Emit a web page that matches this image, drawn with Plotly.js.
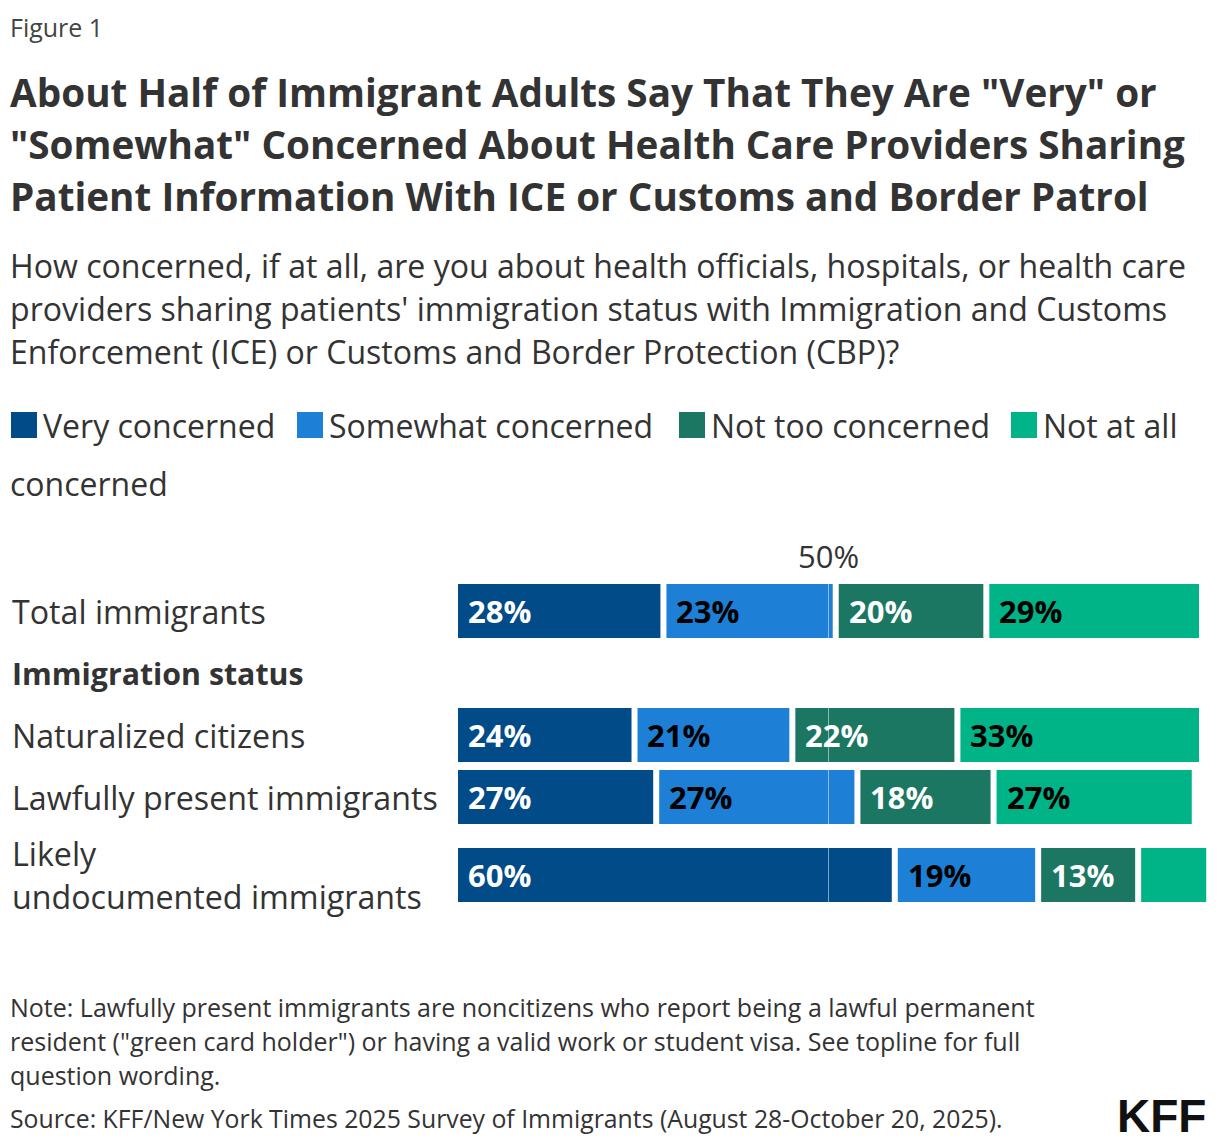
<!DOCTYPE html>
<html>
<head>
<meta charset="utf-8">
<script src="https://cdn.plot.ly/plotly-3.0.1.min.js"></script>
<style>
  html, body { margin: 0; padding: 0; background: #ffffff; }
  #chart { width: 1220px; height: 1146px; }
</style>
</head>
<body>
<div id="chart"></div>
<script>
// Survey groups (rows) and the four answer categories
const categories = ['Total immigrants', 'Naturalized citizens', 'Lawfully present immigrants', 'Likely undocumented immigrants'];
const categoryLines = [['Total immigrants'], ['Naturalized citizens'], ['Lawfully present immigrants'], ['Likely', 'undocumented immigrants']];
const groupHeader = 'Immigration status';
const seriesNames = ['Very concerned', 'Somewhat concerned', 'Not too concerned', 'Not at all concerned'];

// Shares of adults (%) per answer
const veryConcerned = [28, 24, 27, 60];
const somewhatConcerned = [23, 21, 27, 19];
const notTooConcerned = [20, 22, 18, 13];
const notAtAllConcerned = [29, 33, 27, 9];
const seriesValues = [veryConcerned, somewhatConcerned, notTooConcerned, notAtAllConcerned];

// Styling
const colors = ['#004b88', '#1d80d6', '#1b7662', '#00b488'];
const labelColors = ['#ffffff', '#000000', '#ffffff', '#000000'];
const FONT = '"Open Sans", "Noto Sans", sans-serif';
const TEXT = '#333333';

// Layout geometry (pixels)
const W = 1220, H = 1146;
const M = { l: 458, r: 10, t: 549, b: 225 };
const plotW = W - M.l - M.r, plotH = H - M.t - M.b;
const GAP = 0.83;                 // white gap between segments, in % units
const XMAX = plotW / 7.23;        // axis span in % units
const ROW_PX = 62;                // pixels per y unit
const rowPos = [0, 2, 3, 4.26];   // vertical slot of each group
const headerPos = 1;
const YTOP = -1, YBOT = YTOP + plotH / ROW_PX;
const PAD = 3;                    // annotation inner padding

const px = x => (x - PAD - M.l) / plotW;
const py = y => (H - M.b - y) / plotH;

// Stacked segments separated by a small gap
const traces = [];
const annotations = [];
const cum = categories.map(() => 0);
seriesValues.forEach((vals, s) => {
  const base = vals.map((v, i) => cum[i] + s * GAP);
  traces.push({
    type: 'bar', orientation: 'h', name: seriesNames[s],
    x: vals, base: base, y: rowPos, width: 54 / ROW_PX,
    marker: { color: colors[s], line: { width: 0 } },
    hovertemplate: '%{x}%<extra>' + seriesNames[s] + '</extra>',
    showlegend: false
  });
  vals.forEach((v, i) => {
    if (v >= 10) {
      annotations.push({
        xref: 'x', yref: 'y', x: base[i] + 1.1, y: rowPos[i],
        xanchor: 'left', yanchor: 'middle', showarrow: false,
        text: '<b>' + v + '%</b>', font: { family: FONT, size: 31, color: labelColors[s] }
      });
    }
    cum[i] += v;
  });
});

// Row labels on the left
categoryLines.forEach((lines, i) => {
  lines.forEach((ln, k) => {
    const off = (k - (lines.length - 1) / 2) * 43 / ROW_PX;
    annotations.push({
      xref: 'paper', yref: 'y', x: px(13), y: rowPos[i] + off,
      xanchor: 'left', yanchor: 'middle', showarrow: false,
      text: ln, font: { family: FONT, size: 32.2, color: TEXT }
    });
  });
});
annotations.push({
  xref: 'paper', yref: 'y', x: px(13), y: headerPos,
  xanchor: 'left', yanchor: 'middle', showarrow: false,
  text: '<b>' + groupHeader + '</b>', font: { family: FONT, size: 30.3, color: TEXT }
});

// 50% reference label
const mid = (100 + 3 * GAP) / 2;
annotations.push({
  xref: 'x', yref: 'paper', x: mid, y: py(556),
  xanchor: 'center', yanchor: 'middle', showarrow: false,
  text: '50%', font: { family: FONT, size: 31, color: TEXT }
});

// Heading block
function textLine(str, x, y, size, opts) {
  annotations.push(Object.assign({
    xref: 'paper', yref: 'paper', x: px(x), y: py(y),
    xanchor: 'left', yanchor: 'middle', showarrow: false,
    text: str, font: { family: FONT, size: size, color: TEXT }
  }, opts || {}));
}
textLine('Figure 1', 11, 27, 25, { font: { family: FONT, size: 25, color: '#444444' } });
const titleLines = [
  'About Half of Immigrant Adults Say That They Are "Very" or',
  '"Somewhat" Concerned About Health Care Providers Sharing',
  'Patient Information With ICE or Customs and Border Patrol'
];
titleLines.forEach((t, k) => textLine('<b>' + t + '</b>', 11, 92 + 52 * k, 38.7));
const subtitleLines = [
  'How concerned, if at all, are you about health officials, hospitals, or health care',
  "providers sharing patients' immigration status with Immigration and Customs",
  'Enforcement (ICE) or Customs and Border Protection (CBP)?'
];
subtitleLines.forEach((t, k) => textLine(t, 11, 265 + 43 * k, 32.1));

// Legend: swatch + name, the last name wraps onto a second line
const legendX = [11, 297, 679, 1011];
const shapes = [];
seriesNames.forEach((n, s) => {
  shapes.push({
    type: 'rect', xref: 'paper', yref: 'paper',
    x0: px(legendX[s] + PAD), x1: px(legendX[s] + PAD + 26), y0: py(438), y1: py(412),
    fillcolor: colors[s], line: { width: 0 }
  });
  const words = n.split(' ');
  if (s === seriesNames.length - 1) {
    textLine(words.slice(0, 3).join(' '), legendX[s] + 33, 425, 32);
    textLine(words.slice(3).join(' '), 11, 483, 32);
  } else {
    textLine(n, legendX[s] + 33, 425, 32);
  }
});

// 50% guide line across the bars
shapes.push({
  type: 'line', xref: 'x', yref: 'y', x0: mid, x1: mid, y0: -0.5, y1: 4.7,
  line: { color: 'rgba(255,255,255,0.5)', width: 1 }, layer: 'above'
});

// Notes and source
const noteLines = [
  'Note: Lawfully present immigrants are noncitizens who report being a lawful permanent',
  'resident ("green card holder") or having a valid work or student visa. See topline for full',
  'question wording.'
];
noteLines.forEach((t, k) => textLine(t, 11, 1007 + 34 * k, 25));
textLine('Source: KFF/New York Times 2025 Survey of Immigrants (August 28-October 20, 2025).', 11, 1118, 24.8);
annotations.push({
  xref: 'paper', yref: 'paper', x: px(1211), y: py(1116),
  xanchor: 'right', yanchor: 'middle', showarrow: false,
  text: '<b>KFF</b>', font: { family: '"Liberation Sans", Arial, sans-serif', size: 46, color: '#111111' }
});

const layout = {
  width: W, height: H,
  margin: M,
  paper_bgcolor: '#ffffff', plot_bgcolor: '#ffffff',
  barmode: 'overlay',
  showlegend: false,
  xaxis: { range: [0, XMAX], visible: false, fixedrange: true },
  yaxis: { range: [YBOT, YTOP], visible: false, fixedrange: true },
  annotations: annotations,
  shapes: shapes,
  font: { family: FONT, color: TEXT }
};

Plotly.newPlot('chart', traces, layout, { displayModeBar: false, staticPlot: true });
</script>
</body>
</html>
